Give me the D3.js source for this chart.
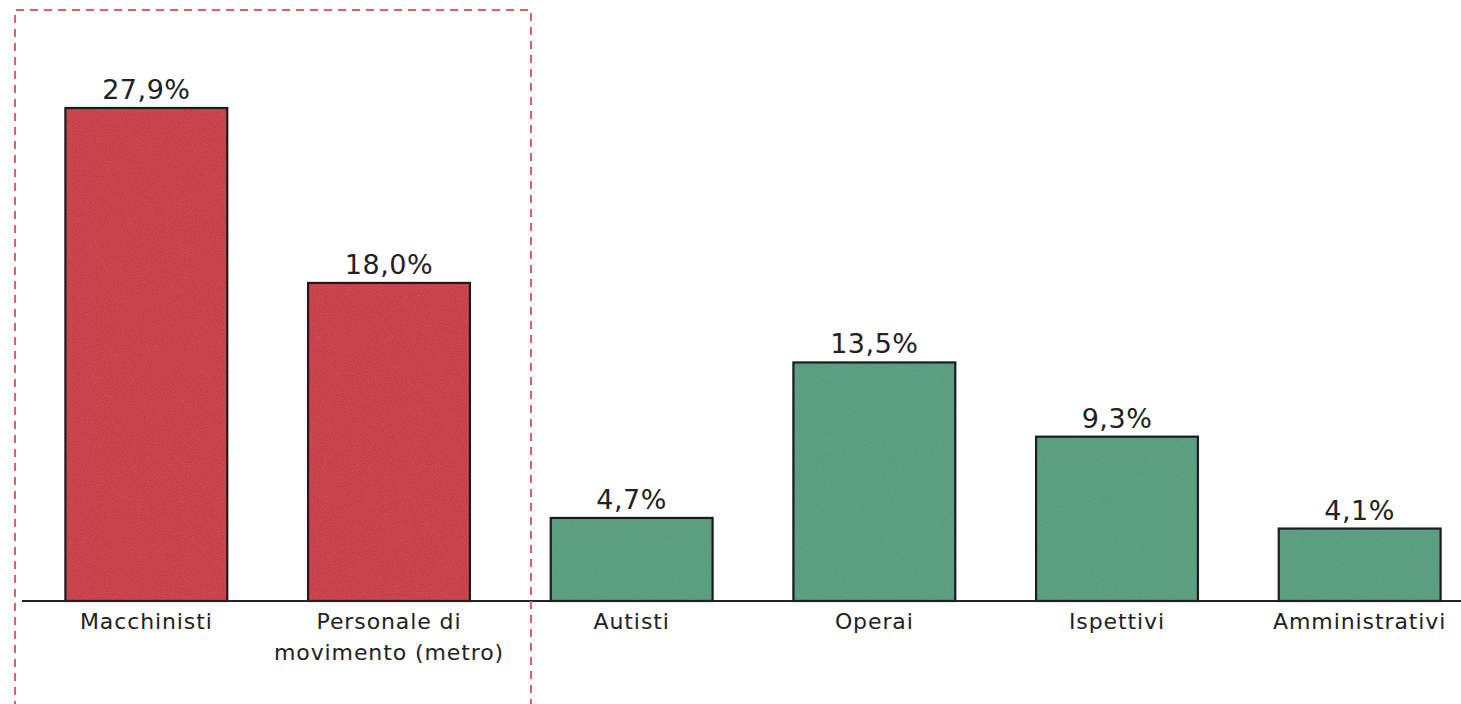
<!DOCTYPE html>
<html>
<head>
<meta charset="utf-8">
<script src="https://cdn.jsdelivr.net/npm/d3@7/dist/d3.min.js"></script>
<style>
  html, body { margin: 0; padding: 0; background: #fff; }
  svg { display: block; }
  text { font-family: "DejaVu Sans", Verdana, sans-serif; fill: #222; }
</style>
</head>
<body>
<svg id="chart" width="1461" height="704"></svg>
<script>
// Quota per categoria professionale (%)
const categories = ["Macchinisti", "Personale di\nmovimento (metro)", "Autisti", "Operai", "Ispettivi", "Amministrativi"];
const values = [27.9, 18.0, 4.7, 13.5, 9.3, 4.1];
const valueLabels = ["27,9%", "18,0%", "4,7%", "13,5%", "9,3%", "4,1%"];
const highlighted = [true, true, false, false, false, false];

const W = 1461, H = 704;
const baseY = 601;
const svg = d3.select("#chart");

const x = d3.scaleBand()
  .domain(categories)
  .range([25, 1481])
  .paddingInner(0.333)
  .paddingOuter(0.1665);

const y = d3.scaleLinear()
  .domain([0, 27.9])
  .range([baseY, 108]);

// light speckle on the bar fills
const defs = svg.append("defs");
const grain = defs.append("filter").attr("id", "grain").attr("x", 0).attr("y", 0).attr("width", 1).attr("height", 1);
grain.append("feTurbulence").attr("type", "fractalNoise").attr("baseFrequency", 0.9).attr("numOctaves", 2).attr("seed", 3).attr("result", "noise");
grain.append("feColorMatrix").attr("in", "noise").attr("type", "matrix")
  .attr("values", "0 0 0 0 1  0 0 0 0 1  0 0 0 0 1  0 0 0 0.07 0").attr("result", "speck");
grain.append("feComposite").attr("in", "speck").attr("in2", "SourceGraphic").attr("operator", "in").attr("result", "speckIn");
grain.append("feMerge").selectAll("feMergeNode").data(["SourceGraphic", "speckIn"]).enter()
  .append("feMergeNode").attr("in", d => d);

const rows = categories.map((c, i) => ({ c, v: values[i], label: valueLabels[i], hi: highlighted[i] }));

// bar fills
const bars = svg.append("g");
bars.selectAll("rect.fill").data(rows).enter().append("rect")
  .attr("class", "fill")
  .attr("x", d => x(d.c))
  .attr("y", d => y(d.v))
  .attr("width", x.bandwidth())
  .attr("height", d => y(0) - y(d.v))
  .attr("fill", d => d.hi ? "#c72f3a" : "#4d9a7b")
  .attr("filter", "url(#grain)");

// bar outlines
bars.selectAll("rect.edge").data(rows).enter().append("rect")
  .attr("class", "edge")
  .attr("x", d => x(d.c))
  .attr("y", d => y(d.v))
  .attr("width", x.bandwidth())
  .attr("height", d => y(0) - y(d.v))
  .attr("fill", "none")
  .attr("stroke", "#1c1c1c")
  .attr("stroke-width", 2.2);

// baseline
const axis = d3.axisBottom(x).tickSize(0).tickFormat("");
const axisG = svg.append("g").attr("transform", `translate(0,${baseY})`).call(axis);
axisG.select(".domain").attr("d", `M22,0H${W}`).attr("stroke", "#222").attr("stroke-width", 2);

// value labels
svg.append("g").selectAll("text").data(rows).enter().append("text")
  .attr("x", d => x(d.c) + x.bandwidth() / 2)
  .attr("y", d => y(d.v) - 9)
  .attr("text-anchor", "middle")
  .attr("font-size", 27)
  .attr("letter-spacing", 0.5)
  .text(d => d.label);

// category labels
const cat = svg.append("g").selectAll("text").data(rows).enter().append("text")
  .attr("x", d => x(d.c) + x.bandwidth() / 2)
  .attr("y", 629)
  .attr("text-anchor", "middle")
  .attr("font-size", 22)
  .attr("letter-spacing", 0.9);
cat.selectAll("tspan").data(d => d.c.split("\n").map(t => ({ t, cx: x(d.c) + x.bandwidth() / 2 })))
  .enter().append("tspan")
  .attr("x", d => d.cx)
  .attr("dy", (d, i) => i === 0 ? 0 : 31)
  .text(d => d.t);

// dashed frame around the highlighted group
svg.append("path")
  .attr("d", `M15,${H + 5}V10H531V${H + 5}`)
  .attr("fill", "none")
  .attr("stroke", "#d9625f")
  .attr("stroke-width", 2)
  .attr("stroke-dasharray", "8,6");
</script>
</body>
</html>
